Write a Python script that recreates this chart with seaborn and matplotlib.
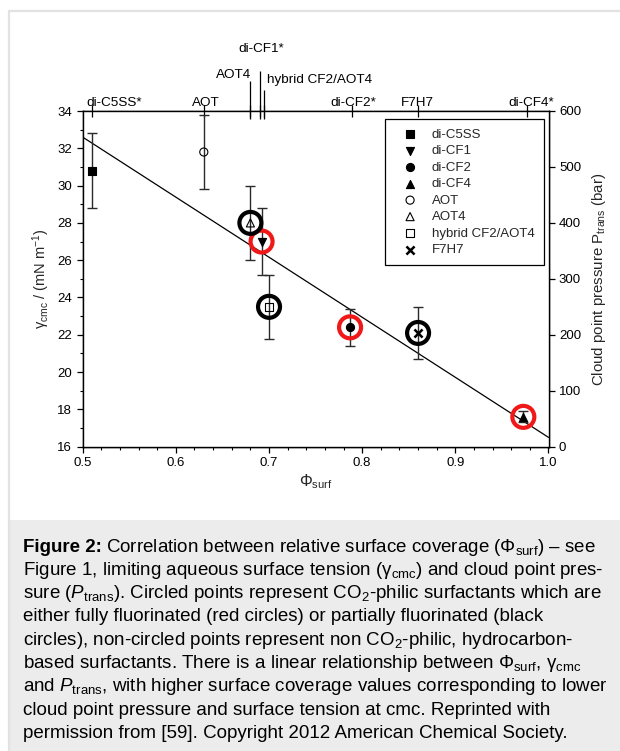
import numpy as np
import matplotlib
matplotlib.use("Agg")
import matplotlib.pyplot as plt
import seaborn as sns
from matplotlib.patches import Rectangle
from matplotlib.lines import Line2D
from matplotlib.transforms import blended_transform_factory

# ── Data ──────────────────────────────────────────────────────
names     = ["di-C5SS", "di-CF1", "di-CF2", "di-CF4",
             "AOT", "AOT4", "hybrid CF2/AOT4", "F7H7"]
phi_surf  = [0.510, 0.692, 0.787, 0.973, 0.630, 0.680, 0.700, 0.860]
gamma_cmc = [30.8, 27.0, 22.4, 17.6, 31.8, 28.0, 23.5, 22.1]
gamma_err = [2.0, 1.8, 1.0, 0.3, 2.0, 2.0, 1.7, 1.4]
ring      = [None, "red", "red", "red", None, "black", "black", "black"]

# linear fit drawn across the panel
fit_phi   = [0.5, 1.0]
fit_gamma = [32.6, 16.5]

# top axis: surfactant positions
top_phi    = [0.510, 0.630, 0.680, 0.690, 0.695, 0.789, 0.860, 0.977]
top_labels = ["di-C5SS*", "AOT", "AOT4", "di-CF1*", "hybrid CF2/AOT4",
              "di-CF2*", "F7H7", "di-CF4*"]

y_ticks  = np.arange(16, 35, 2)
x_ticks  = [0.5, 0.6, 0.7, 0.8, 0.9, 1.0]
p_ticks  = [0, 100, 200, 300, 400, 500, 600]

# ── Styles ────────────────────────────────────────────────────
MARKERS = {
    "di-C5SS": dict(marker="s", facecolor="black", edgecolor="black"),
    "di-CF1": dict(marker="v", facecolor="black", edgecolor="black"),
    "di-CF2": dict(marker="o", facecolor="black", edgecolor="black"),
    "di-CF4": dict(marker="^", facecolor="black", edgecolor="black"),
    "AOT": dict(marker="o", facecolor="none", edgecolor="black"),
    "AOT4": dict(marker="^", facecolor="none", edgecolor="black"),
    "hybrid CF2/AOT4": dict(marker="s", facecolor="none", edgecolor="black"),
    "F7H7": dict(marker="x", color="black"),
}
RING_COLORS = {"red": "#f01818", "black": "black"}

sns.set_theme(style="ticks")
plt.rcParams["font.family"] = ["Liberation Sans", "DejaVu Sans"]
plt.rcParams["mathtext.fontset"] = "custom"
plt.rcParams["mathtext.rm"] = "Liberation Sans"
plt.rcParams["mathtext.it"] = "Liberation Sans:italic"
plt.rcParams["mathtext.bf"] = "Liberation Sans:bold"

W, H = 620, 751
fig = plt.figure(figsize=(W / 100, H / 100), dpi=100)
fig.patch.set_facecolor("white")

# caption panel + frame
fig.patches.append(Rectangle((9 / W, 0), 1, (H - 520) / H, transform=fig.transFigure,
                             facecolor="#ececec", edgecolor="none", zorder=0))
fig.add_artist(Line2D([8.5 / W, 1], [1 - 10.5 / H, 1 - 10.5 / H],
                      transform=fig.transFigure, color="#e2e2e2", lw=1.6))
fig.add_artist(Line2D([8.5 / W, 8.5 / W], [0, 1 - 10.5 / H],
                      transform=fig.transFigure, color="#e2e2e2", lw=1.6))

L, R, T, B = 82.7, 548.5, 111, 446.7
ax = fig.add_axes([L / W, 1 - B / H, (R - L) / W, (B - T) / H])
ax.set_facecolor("white")

# fit line
sns.lineplot(x=fit_phi, y=fit_gamma, color="black", lw=0.9, ax=ax, zorder=2)

# error bars
ax.errorbar(phi_surf, gamma_cmc, yerr=gamma_err, fmt="none", ecolor="#2a2a2a",
            elinewidth=1.0, capsize=3.6, capthick=1.0, zorder=3)

# rings around CO2-philic surfactants
for x, y, r in zip(phi_surf, gamma_cmc, ring):
    if r is None:
        continue
    sns.scatterplot(x=[x], y=[y], marker="o", s=250, facecolor="none",
                    edgecolor=RING_COLORS[r], linewidth=3.0, ax=ax,
                    legend=False, zorder=4)

# markers
for name, x, y in zip(names, phi_surf, gamma_cmc):
    st = MARKERS[name]
    lw = 1.8 if st["marker"] == "x" else 0.8
    sns.scatterplot(x=[x], y=[y], s=34, linewidth=lw, ax=ax, label=name,
                    zorder=5, **st)

ax.set_xlim(0.5, 1.0)
ax.set_ylim(16, 34)
ax.set_xticks(x_ticks)
ax.set_xticklabels([f"{v:.1f}" for v in x_ticks])
ax.set_yticks(y_ticks)
ax.set_xticks(np.arange(0.5, 1.001, 0.02), minor=True)
ax.set_yticks(np.arange(16, 34.1, 1), minor=True)
ax.tick_params(axis="both", which="major", direction="out", length=4.5,
               width=0.9, labelsize=9.5, colors="black", pad=3)
ax.tick_params(axis="both", which="minor", direction="out", length=2.5,
               width=0.8, colors="black")
for sp in ax.spines.values():
    sp.set_color("black")
    sp.set_linewidth(1.0)

ax.set_xlabel("Φ$_{\\mathrm{surf}}$", fontsize=11.5, labelpad=2)
ax.set_ylabel("γ$_{\\mathrm{cmc}}$ / (mN m$^{-1}$)", fontsize=10.5, labelpad=4)

# right axis: cloud point pressure
ax2 = ax.twinx()
ax2.set_ylim(0, 600)
ax2.set_yticks(p_ticks)
ax2.tick_params(axis="y", direction="out", length=4.5, width=0.9,
                labelsize=9.5, colors="black", pad=3)
for sp in ax2.spines.values():
    sp.set_color("black")
    sp.set_linewidth(1.0)
ax2.set_ylabel("Cloud point pressure P$_{\\mathrm{trans}}$ (bar)", fontsize=10.8,
               labelpad=6)

# top axis: surfactant markers
top = ax.secondary_xaxis("top")
top.set_xticks(top_phi)
top.set_xticklabels([""] * len(top_phi))
top.tick_params(axis="x", direction="inout", length=8, width=0.9, colors="black")
top.spines["top"].set_visible(False)

blend = blended_transform_factory(ax.transData, ax.transAxes)
h_ax = B - T
long_tops = {"AOT4": 30, "di-CF1*": 40, "hybrid CF2/AOT4": 21}
for x, lab in zip(top_phi, top_labels):
    if lab in long_tops:
        ax.vlines(x, 1 - 8 / h_ax, 1 + long_tops[lab] / h_ax, transform=blend,
                  color="black", lw=0.9, clip_on=False)

# label placement (offset in px from tick, baseline height above axis)
label_pos = {
    "di-C5SS*": ("left", -6, 5),
    "AOT": ("center", 2, 5),
    "AOT4": ("right", 1, 33),
    "di-CF1*": ("center", 2, 59),
    "hybrid CF2/AOT4": ("left", 3, 28),
    "di-CF2*": ("center", 1, 5),
    "F7H7": ("center", -1, 5),
    "di-CF4*": ("center", 4, 5),
}
for x, lab in zip(top_phi, top_labels):
    ha, dx, dy = label_pos[lab]
    ax.annotate(lab, xy=(x, 1), xycoords=blend, xytext=(dx * 0.72, dy * 0.72),
                textcoords="offset points", ha=ha, va="baseline", fontsize=9.7,
                color="black", annotation_clip=False)

# legend
handles, labels = ax.get_legend_handles_labels()
leg = ax.legend(handles, labels, loc="upper left",
                bbox_to_anchor=((385 - L) / (R - L), (B - 119.3) / (B - T)),
                fontsize=9.5, frameon=True, fancybox=False, framealpha=1,
                edgecolor="black", borderpad=0.7, handlelength=2.4,
                handletextpad=0.45, labelspacing=0.32, borderaxespad=0)
leg.get_frame().set_linewidth(0.9)
leg.set_zorder(10)
ax2.set_zorder(ax.get_zorder() - 1)
ax.patch.set_visible(True)

# ── Caption ───────────────────────────────────────────────────
cap_fs = 13.5
cap_x = 23 / W
line_y = [547, 570.3, 593.6, 616.9, 640.2, 663.5, 686.8, 710.1, 733.4]
cap_lines = [
    "Correlation between relative surface coverage (Φ$_{\\mathrm{surf}}$) – see",
    "Figure 1, limiting aqueous surface tension (γ$_{\\mathrm{cmc}}$) and cloud point pres-",
    "sure ($P_{\\mathrm{trans}}$). Circled points represent CO$_2$-philic surfactants which are",
    "either fully fluorinated (red circles) or partially fluorinated (black",
    "circles), non-circled points represent non CO$_2$-philic, hydrocarbon-",
    "based surfactants. There is a linear relationship between Φ$_{\\mathrm{surf}}$, γ$_{\\mathrm{cmc}}$",
    "and $P_{\\mathrm{trans}}$, with higher surface coverage values corresponding to lower",
    "cloud point pressure and surface tension at cmc. Reprinted with",
    "permission from [59]. Copyright 2012 American Chemical Society.",
]
bold = fig.text(cap_x, 1 - line_y[0] / H, "Figure 2:", fontsize=cap_fs,
                weight="bold", va="center", color="black")
fig.canvas.draw()
bb = bold.get_window_extent(fig.canvas.get_renderer())
for i, (yy, txt) in enumerate(zip(line_y, cap_lines)):
    x0 = (bb.x1 + 4) / W if i == 0 else cap_x
    fig.text(x0, 1 - yy / H, txt, fontsize=cap_fs, va="center", color="black")

fig.savefig("out.png", dpi=100)
plt.close(fig)
